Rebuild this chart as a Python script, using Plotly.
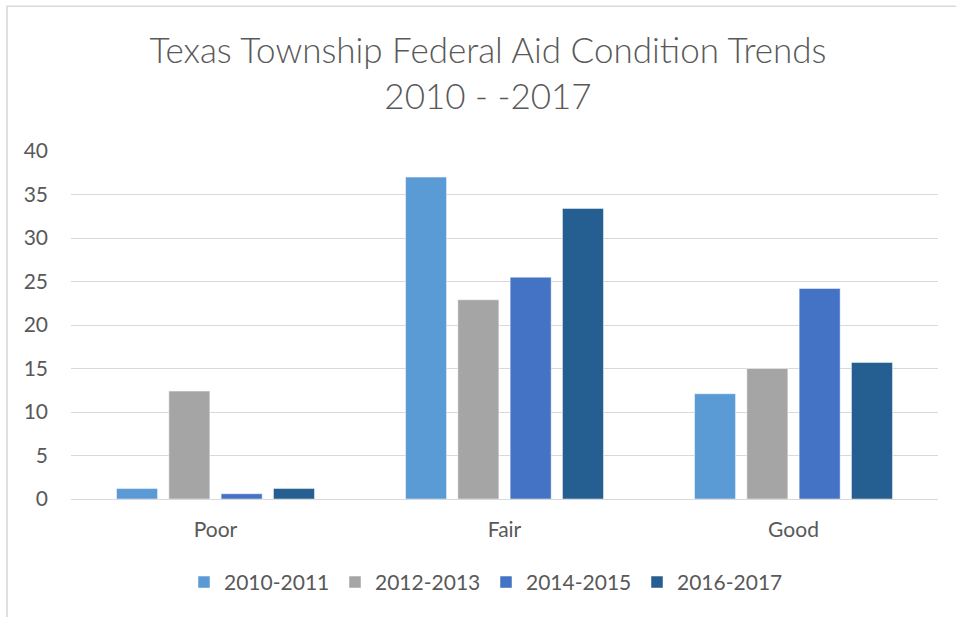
import plotly.graph_objects as go

categories = ["Poor", "Fair", "Good"]
series_names = ["2010-2011", "2012-2013", "2014-2015", "2016-2017"]
values_2010_2011 = [1.2, 37.0, 12.1]
values_2012_2013 = [12.4, 22.9, 15.0]
values_2014_2015 = [0.6, 25.5, 24.2]
values_2016_2017 = [1.2, 33.4, 15.7]
series_values = [values_2010_2011, values_2012_2013, values_2014_2015, values_2016_2017]
colors = ["#5B9BD5", "#A5A5A5", "#4472C4", "#255E91"]
y_ticks = [0, 5, 10, 15, 20, 25, 30, 35, 40]

W, H = 956, 617
L, R = 71, 938
T, B = 151, 499.5

fig = go.Figure()
for name, vals, col in zip(series_names, series_values, colors):
    fig.add_trace(go.Bar(
        x=categories, y=vals, name=name,
        marker=dict(color=col, line=dict(color="rgba(255,255,255,0.6)", width=0.8)),
    ))

def px_x(p):
    return (p - L) / (R - L)

def px_y(p):
    return (B - p) / (B - T)

txt = "#595959"
fig.update_layout(
    width=W, height=H,
    margin=dict(l=L, r=W - R, t=T, b=H - B),
    paper_bgcolor="white", plot_bgcolor="white",
    barmode="group", bargap=0.276, bargroupgap=0.216,
    font=dict(family="Lato", color=txt, size=21),
    title=dict(
        text="Texas Township Federal Aid Condition Trends<br>2010 - -2017",
        x=px_x(488), xanchor="center", xref="paper",
        y=1 - 63 / H, yanchor="middle",
        font=dict(family="Lato", size=35, color=txt, weight=300),
    ),
    xaxis=dict(showgrid=False, showline=False, ticks="", ticklabelstandoff=16,
               tickfont=dict(size=21, color=txt)),
    yaxis=dict(range=[0, 40], tickvals=y_ticks, showgrid=True, gridcolor="#D9D9D9",
               gridwidth=1.4, zeroline=True, zerolinecolor="#D9D9D9", zerolinewidth=1.4,
               showline=False, ticks="", ticklabelstandoff=22,
               tickfont=dict(size=21, color=txt)),
    legend=dict(orientation="h", x=px_x(486), xanchor="center", y=px_y(583), yanchor="middle",
                font=dict(size=21, color=txt), entrywidth=106, itemwidth=30,
                traceorder="normal"),
    shapes=[dict(type="rect", xref="paper", yref="paper",
                 x0=px_x(7), x1=px_x(1000), y0=px_y(660), y1=px_y(6),
                 line=dict(color="#D9D9D9", width=1.6), fillcolor="rgba(0,0,0,0)", layer="below")],
)

fig.write_html("out.html", config={"displayModeBar": False},
               post_script="document.body.style.margin='0';document.body.style.overflow='hidden';")
